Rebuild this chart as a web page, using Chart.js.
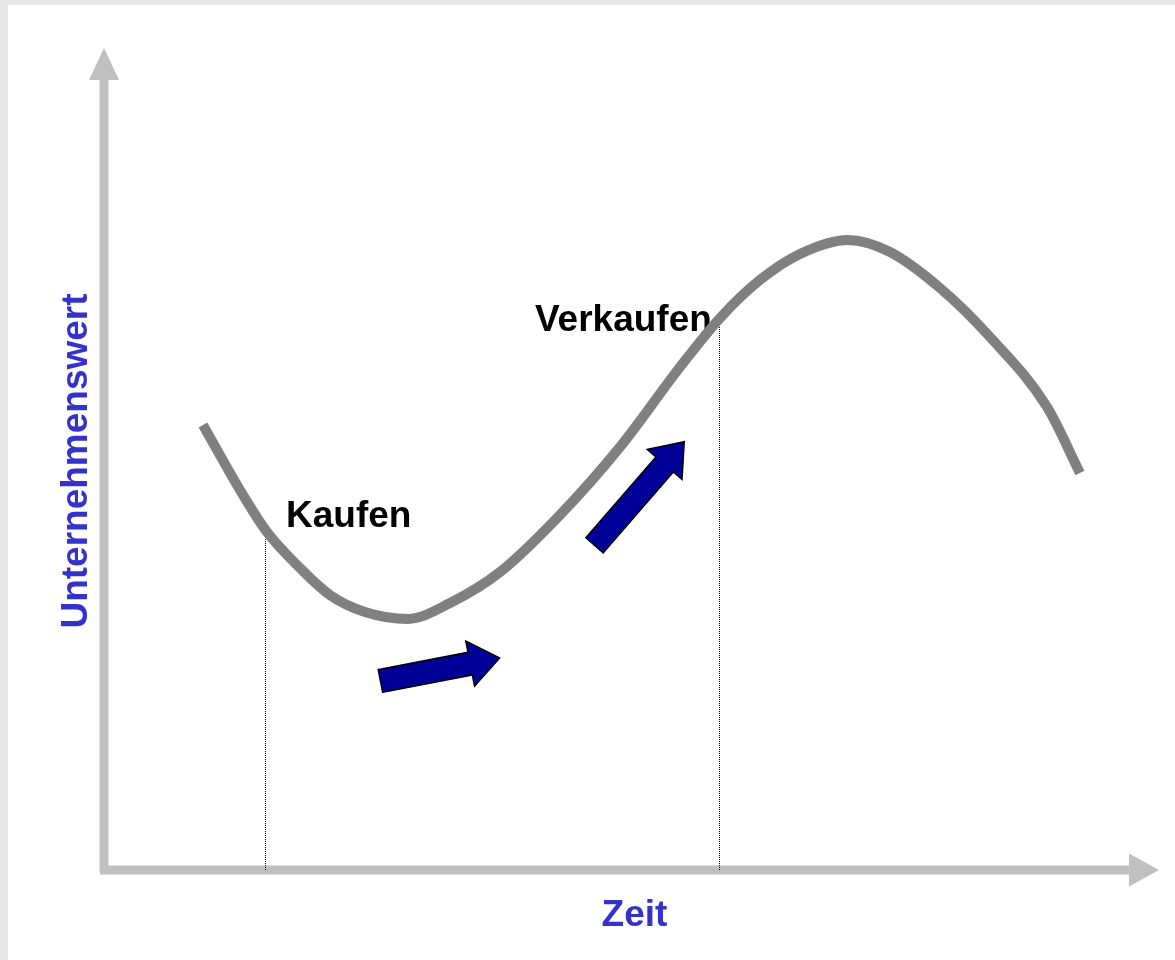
<!DOCTYPE html>
<html>
<head>
<meta charset="utf-8">
<script src="https://cdn.jsdelivr.net/npm/chart.js@4/dist/chart.umd.min.js"></script>
<style>
  html, body { margin: 0; padding: 0; background: #e8e8e8; }
  canvas { display: block; }
</style>
</head>
<body>
<canvas id="c" width="1175" height="960"></canvas>
<script>
// ---- data (abstract units: Zeit 0..100, Unternehmenswert 0..100) ----
const zeit = [9.38, 12.89, 15.45, 18.58, 21.42, 24.74, 28.82, 32.80, 37.54, 43.22, 48.91, 54.60, 58.39, 62.18, 65.97, 70.52, 74.50, 79.24, 83.98, 89.38, 92.51];
const wert = [54.14, 46.23, 41.12, 36.74, 33.45, 31.39, 30.54, 32.48, 36.25, 43.19, 51.46, 61.19, 67.15, 71.78, 74.94, 76.64, 75.18, 70.80, 64.84, 56.33, 48.30];

const markerX = [15.31, 58.34];          // Kaufen, Verkaufen
const markerTop = [42.2, 67.5];

const labelTexts = ['Kaufen', 'Verkaufen'];
const labelX = [17.25, 40.85];
const labelY = [41.7, 65.6];

const arrowTailX = [26.2, 46.5];
const arrowTailY = [23.0, 39.5];
const arrowTipX = [37.5, 55.0];
const arrowTipY = [25.8, 52.1];

const xTitle = 'Zeit';
const yTitle = 'Unternehmenswert';

// ---- datasets built from the arrays ----
const curve = zeit.map((x, i) => ({ x: x, y: wert[i] }));
const markerSets = markerX.map((x, i) => ({
  data: [{ x: x, y: 0 }, { x: x, y: markerTop[i] }],
  showLine: true, borderColor: '#000', borderWidth: 1, borderDash: [1, 1],
  pointRadius: 0, tension: 0, order: 2
}));

const FONT = 'bold 37px "Liberation Sans", Arial, sans-serif';
const AXIS = '#c0c0c0';
const BLUE_TXT = '#3333cc';

const decor = {
  id: 'decor',
  beforeDraw(chart) {
    const c = chart.ctx;
    c.save();
    c.fillStyle = '#e8e8e8';
    c.fillRect(0, 0, chart.width, chart.height);
    c.fillStyle = '#ffffff';
    c.fillRect(8, 5, chart.width - 8, chart.height - 5);
    const xs = chart.scales.x, ys = chart.scales.y;
    const ox = xs.getPixelForValue(0), oy = ys.getPixelForValue(0);
    const right = xs.getPixelForValue(100), top = ys.getPixelForValue(100);
    c.fillStyle = AXIS;
    // y axis
    c.fillRect(ox - 4.5, top + 32, 9, oy - top - 32 + 1);
    c.beginPath();
    c.moveTo(ox - 15, top + 32); c.lineTo(ox + 15, top + 32); c.lineTo(ox, top); c.closePath(); c.fill();
    // x axis
    c.fillRect(ox - 4, oy - 4.5, right - 30 - ox + 4, 9);
    c.beginPath();
    c.moveTo(right - 30, oy - 16.5); c.lineTo(right - 30, oy + 16.5); c.lineTo(right, oy); c.closePath(); c.fill();
    // axis titles
    c.fillStyle = BLUE_TXT;
    c.font = FONT;
    c.textAlign = 'center';
    c.textBaseline = 'alphabetic';
    c.fillText(xTitle, (ox + right) / 2 + 3, oy + 56);
    c.save();
    c.translate(ox - 17, (top + oy) / 2 + 2);
    c.rotate(-Math.PI / 2);
    c.fillText(yTitle, 0, 0);
    c.restore();
    c.restore();
  },
  beforeDatasetsDraw(chart) {
    const c = chart.ctx;
    const xs = chart.scales.x, ys = chart.scales.y;
    c.save();
    c.fillStyle = '#000';
    c.font = FONT;
    c.textAlign = 'left';
    c.textBaseline = 'alphabetic';
    labelTexts.forEach((t, i) => {
      c.fillText(t, xs.getPixelForValue(labelX[i]), ys.getPixelForValue(labelY[i]));
    });
    c.restore();
  },
  afterDatasetsDraw(chart) {
    const c = chart.ctx;
    const xs = chart.scales.x, ys = chart.scales.y;
    const sw = 23, hw = 46, hl = 30;
    c.save();
    arrowTailX.forEach((_, i) => {
      const tx = xs.getPixelForValue(arrowTailX[i]), ty = ys.getPixelForValue(arrowTailY[i]);
      const px = xs.getPixelForValue(arrowTipX[i]), py = ys.getPixelForValue(arrowTipY[i]);
      const len = Math.hypot(px - tx, py - ty);
      const ux = (px - tx) / len, uy = (py - ty) / len;
      const nx = -uy, ny = ux;
      const bx = px - ux * hl, by = py - uy * hl;
      c.beginPath();
      c.moveTo(tx + nx * sw / 2, ty + ny * sw / 2);
      c.lineTo(bx + nx * sw / 2, by + ny * sw / 2);
      c.lineTo(bx + nx * hw / 2, by + ny * hw / 2);
      c.lineTo(px, py);
      c.lineTo(bx - nx * hw / 2, by - ny * hw / 2);
      c.lineTo(bx - nx * sw / 2, by - ny * sw / 2);
      c.lineTo(tx - nx * sw / 2, ty - ny * sw / 2);
      c.closePath();
      c.fillStyle = '#000099';
      c.fill();
      c.lineWidth = 1.5;
      c.lineJoin = 'miter';
      c.strokeStyle = '#000';
      c.stroke();
    });
    c.restore();
  }
};

new Chart(document.getElementById('c'), {
  type: 'scatter',
  data: {
    datasets: [
      {
        data: curve, showLine: true, borderColor: '#808080', borderWidth: 10,
        borderCapStyle: 'butt', borderJoinStyle: 'round',
        cubicInterpolationMode: 'monotone',
        pointRadius: 0, order: 1
      },
      ...markerSets
    ]
  },
  options: {
    responsive: false,
    animation: false,
    devicePixelRatio: 1,
    layout: { padding: { left: 104, right: 16, top: 48, bottom: 90 } },
    scales: {
      x: { type: 'linear', min: 0, max: 100, display: false },
      y: { type: 'linear', min: 0, max: 100, display: false }
    },
    plugins: { legend: { display: false }, tooltip: { enabled: false } },
    events: []
  },
  plugins: [decor]
});
</script>
</body>
</html>
